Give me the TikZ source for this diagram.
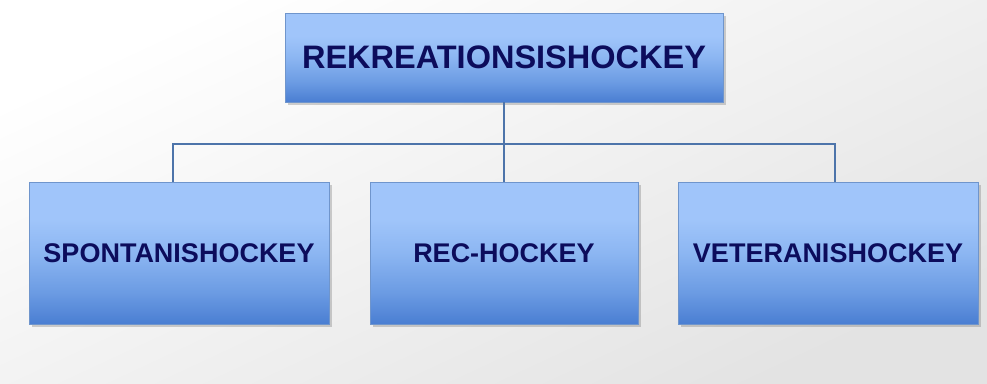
\documentclass[tikz,border=0pt]{standalone}
\usepackage{fontspec}
\setmainfont{Liberation Sans}
\usetikzlibrary{shadows}
\definecolor{boxtop}{HTML}{A0C5FA}
\definecolor{boxmid}{HTML}{8CB6F2}
\definecolor{boxlow}{HTML}{6B9BE3}
\definecolor{boxbot}{HTML}{4A7ED2}
\definecolor{boxedge}{HTML}{6F95CC}
\definecolor{conn}{HTML}{4D74AA}
\definecolor{txt}{HTML}{0C0C5C}
\pgfdeclareverticalshading{boxshade}{100bp}{color(0bp)=(boxbot); color(25bp)=(boxbot); color(36bp)=(boxlow); color(50bp)=(boxmid); color(62bp)=(boxtop); color(75bp)=(boxtop); color(100bp)=(boxtop)}
\tikzset{
  box/.style={draw=boxedge, line width=0.8pt, shading=boxshade, inner sep=0pt,
    drop shadow={shadow xshift=3pt, shadow yshift=-3pt, opacity=0.3, fill=black!60},
    text=txt, font=\bfseries},
  conline/.style={draw=conn, line width=2.2pt}
}
\begin{document}
\begin{tikzpicture}[x=1pt,y=-1pt]
\useasboundingbox (0,0) rectangle (987,383);
\shade[top color=white, bottom color=black!11, shading angle=25] (0,0) rectangle (987,383);
\node[box, minimum width=438pt, minimum height=89pt, font=\fontsize{32.5}{36}\selectfont\bfseries] (top) at (504,57.5) {REKREATIONSISHOCKEY};
\node[box, minimum width=300pt, minimum height=142pt, font=\fontsize{27}{30}\selectfont\bfseries] (left) at (179,253) {SPONTANISHOCKEY};
\node[box, minimum width=268pt, minimum height=142pt, font=\fontsize{27}{30}\selectfont\bfseries] (mid) at (504,253) {REC-HOCKEY};
\node[box, minimum width=300pt, minimum height=142pt, font=\fontsize{27}{30}\selectfont\bfseries] (right) at (828,253) {VETERANISHOCKEY};
\coordinate (hl) at (173,144);
\coordinate (hr) at (835,144);
\draw[conline] (top.south) -- (mid.north);
\draw[conline, line cap=rect] (hl) -- (hr);
\draw[conline] (hl) -- (hl |- left.north);
\draw[conline] (hr) -- (hr |- right.north);
\end{tikzpicture}
\end{document}
